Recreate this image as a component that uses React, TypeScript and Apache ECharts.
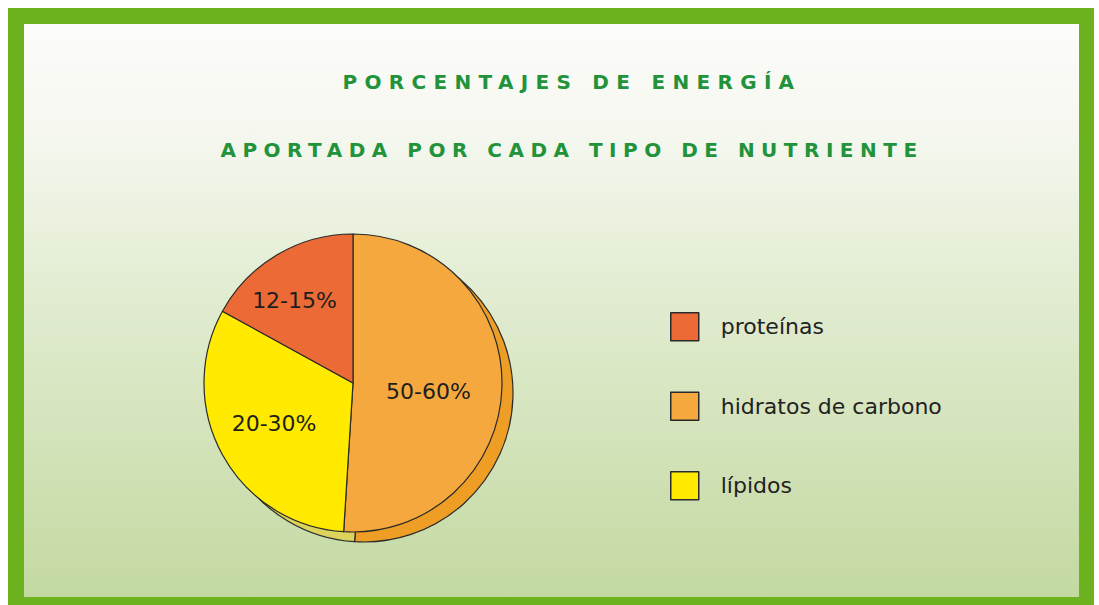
import React, { useEffect, useRef } from "react";
import * as echarts from "echarts";

// ---- data ----
const titleLines = ["PORCENTAJES DE ENERGÍA", "APORTADA POR CADA TIPO DE NUTRIENTE"];
const categories = ["proteínas", "hidratos de carbono", "lípidos"]; // legend order
const rangeLabels = ["12-15%", "50-60%", "20-30%"];
const shares = [17, 51, 32]; // share of the drawn circle, %
const pieOrder = [1, 2, 0]; // clockwise from 12 o'clock

// ---- styles ----
const sliceColors = ["#ec6a35", "#f5a83e", "#ffea00"];
const depthColors = ["#cf5b2a", "#ee9e24", "#dcd35c"];
const labelNudges = [
  [-2, 6],
  [-11, 3],
  [-19, -16],
];
const titleSpacing = [7.3, 6.5];

export default function App() {
  const ref = useRef<HTMLDivElement>(null);

  useEffect(() => {
    if (!ref.current) return;
    const chart = echarts.init(ref.current, null, { renderer: "svg" });

    const mainData = pieOrder.map((i) => ({
      name: categories[i],
      value: shares[i],
      itemStyle: { color: sliceColors[i] },
      label: { formatter: rangeLabels[i] },
    }));
    const depthData = pieOrder.map((i) => ({
      name: categories[i],
      value: shares[i],
      itemStyle: { color: depthColors[i] },
    }));

    chart.setOption({
      animation: false,
      backgroundColor: "#ffffff",
      graphic: {
        elements: [
          {
            type: "rect",
            z: 0,
            silent: true,
            shape: { x: 8, y: 8, width: 1086, height: 597 },
            style: { fill: "#6db21f" },
          },
          {
            type: "rect",
            z: 0,
            silent: true,
            shape: { x: 24, y: 24, width: 1055, height: 573 },
            style: {
              fill: new echarts.graphic.LinearGradient(0, 0, 0, 1, [
                { offset: 0, color: "#fcfcfa" },
                { offset: 0.18, color: "#f6f8f0" },
                { offset: 0.45, color: "#e3edd3" },
                { offset: 1, color: "#c3d9a1" },
              ]),
            },
          },
          ...titleLines.map((t, k) => ({
            type: "text",
            z: 10,
            silent: true,
            x: 572,
            y: k === 0 ? 82 : 149.5,
            style: {
              text: t,
              fontFamily: "DejaVu Sans",
              fontSize: 20,
              fontWeight: "bold",
              fill: "#22933a",
              align: "center",
              verticalAlign: "middle",
              textAlign: "center",
              textVerticalAlign: "middle",
            },
          })),
        ],
      },
      legend: {
        orient: "vertical",
        left: 665,
        top: 307,
        itemWidth: 28,
        itemHeight: 28,
        itemGap: 50,
        icon: "rect",
        selectedMode: false,
        data: categories,
        itemStyle: { borderColor: "#2a2a2a", borderWidth: 1.5 },
        textStyle: {
          fontFamily: "DejaVu Sans",
          fontSize: 22,
          color: "#222222",
          padding: [0, 0, 0, 17],
        },
      },
      series: [
        {
          type: "pie",
          z: 3,
          silent: true,
          center: [353, 383],
          radius: 149,
          startAngle: 90,
          clockwise: true,
          avoidLabelOverlap: false,
          data: mainData,
          itemStyle: { borderColor: "#2a2a2a", borderWidth: 1.2 },
          label: {
            show: true,
            position: "inside",
            fontFamily: "DejaVu Sans",
            fontSize: 22,
            color: "#1e1e1e",
          },
          labelLine: { show: false },
          labelLayout: (p: any) => ({
            dx: labelNudges[p.dataIndex][0],
            dy: labelNudges[p.dataIndex][1],
          }),
          emphasis: { disabled: true },
        },
        {
          type: "pie",
          z: 1,
          silent: true,
          center: [364, 393],
          radius: 149,
          startAngle: 90,
          clockwise: true,
          data: depthData,
          itemStyle: { borderColor: "#2a2a2a", borderWidth: 1.2 },
          label: { show: false },
          labelLine: { show: false },
          emphasis: { disabled: true },
        },
      ],
    });

    // letter spacing for the small-caps title (not an ECharts text option)
    ref.current.querySelectorAll("text").forEach((t) => {
      const idx = titleLines.indexOf(t.textContent || "");
      if (idx >= 0) t.setAttribute("letter-spacing", String(titleSpacing[idx]));
    });

    return () => chart.dispose();
  }, []);

  return (
    <div
      ref={ref}
      style={{ position: "fixed", left: 0, top: 0, width: 1099, height: 605 }}
    />
  );
}
